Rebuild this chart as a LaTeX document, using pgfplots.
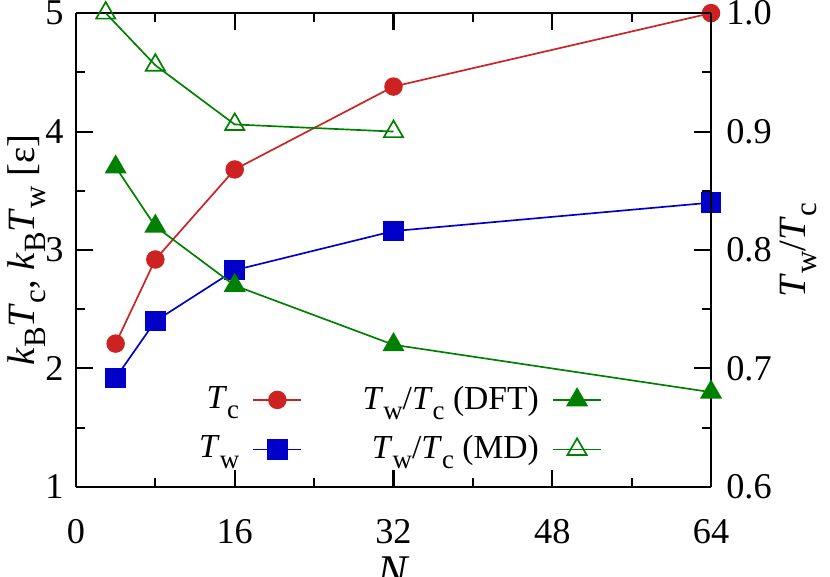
\documentclass[border=0pt]{standalone}
\usepackage{fontspec}
\setmainfont{Liberation Serif}
\usepackage{graphicx}
\usepackage{pgfplots}
\pgfplotsset{compat=1.18}

\definecolor{cred}{RGB}{204,34,34}
\definecolor{cblue}{RGB}{0,0,200}
\definecolor{cgreen}{RGB}{0,128,0}

% gnuplot-like subscript, 0.8 of the text size
\newcommand{\sub}[1]{\raisebox{-0.3em}{\scalebox{0.8}{#1}}}
\newcommand{\Tc}{\textit{T}\sub{c}}
\newcommand{\Tw}{\textit{T}\sub{w}}
\newcommand{\kB}{\textit{k}\sub{B}}

\pgfplotsset{
  common/.style={
    scale only axis, width=189pt, height=141pt,
    xmin=0, xmax=64, clip=false,
    /pgf/number format/assume math mode=true,
    ticklabel style={font=\fontsize{10.8}{12}\selectfont},
    major tick length=5pt, minor tick length=2.7pt,
    every axis/.append style={line width=0.8pt},
    tick style={line width=0.6pt, black},
  },
}

\begin{document}
\begin{tikzpicture}
% left axis: temperatures
\begin{axis}[common, name=ax,
    ymin=1, ymax=5,
    axis y line*=left,
    xtick={0,16,32,48,64}, minor x tick num=1,
    ytick={1,2,3,4,5}, minor y tick num=1,
    xticklabel style={yshift=-6pt},
    xlabel={\textit{N}},
    ylabel={\kB\Tc, \kB\Tw\ [ε]},
    xlabel style={font=\fontsize{13.5}{15}\selectfont, at={(rel axis cs:0.5,0)}, anchor=center, yshift=-25.3pt},
    ylabel style={font=\fontsize{11.5}{13}\selectfont, at={(rel axis cs:0,0.5)}, anchor=center, yshift=14.6pt},
]
% T_c
\addplot[cred, line width=0.5pt, mark=*, mark size=2.5pt, mark options={fill=cred}]
  coordinates {(4,2.21) (8,2.92) (16,3.68) (32,4.38) (64,5.0)};
% T_w
\addplot[cblue, line width=0.5pt, mark=square*, mark size=2.8pt, mark options={fill=cblue}]
  coordinates {(4,1.92) (8,2.40) (16,2.83) (32,3.16) (64,3.40)};
\end{axis}

% right axis: ratio
\begin{axis}[common,
    ymin=0.6, ymax=1.0,
    axis y line*=right, axis x line=none,
    ytick={0.6,0.7,0.8,0.9,1.0}, minor y tick num=1,
    yticklabel style={xshift=0.8pt, /pgf/number format/fixed, /pgf/number format/fixed zerofill, /pgf/number format/precision=1},
    ylabel={\Tw/\Tc},
    ylabel style={font=\fontsize{11.5}{13}\selectfont, at={(rel axis cs:1,0.5)}, anchor=center, yshift=-26pt},
    legend columns=2,
    legend plot pos=right,
    legend cell align=right,
    legend image code/.code={\draw[mark repeat=2,mark phase=2,#1] plot coordinates {(0cm,0cm) (0.25cm,0cm) (0.5cm,0cm)};},
    legend style={draw=none, fill=none, at={(0.846,0.018)}, anchor=south east,
      row sep=2.3pt, column sep=2pt,
      /tikz/every even column/.append style={column sep=16pt}},
]
\addlegendimage{cred, line width=0.5pt, mark=*, mark size=2.5pt, mark options={fill=cred}}
\addlegendentry{\Tc}
% DFT
\addplot[cgreen, line width=0.5pt, mark=triangle*, mark size=3.3pt, mark options={fill=cgreen}]
  coordinates {(4,0.870) (8,0.820) (16,0.770) (32,0.720) (64,0.680)};
\addlegendentry{\Tw/\Tc\ (DFT)}
\addlegendimage{cblue, line width=0.5pt, mark=square*, mark size=2.8pt, mark options={fill=cblue}}
\addlegendentry{\Tw}
% MD
\addplot[cgreen, line width=0.5pt, mark=triangle, mark size=3.3pt, mark options={solid}]
  coordinates {(3,1.000) (8,0.956) (16,0.906) (32,0.900)};
\addlegendentry{\Tw/\Tc\ (MD)}
\end{axis}
% page margins as in the reference
\path (ax.south west) ++(-22.6pt,-26.8pt) coordinate (bbA);
\path (ax.north east) ++(35.4pt,3.9pt) coordinate (bbB);
\pgfresetboundingbox
\path (bbA) rectangle (bbB);
\end{tikzpicture}
\end{document}
